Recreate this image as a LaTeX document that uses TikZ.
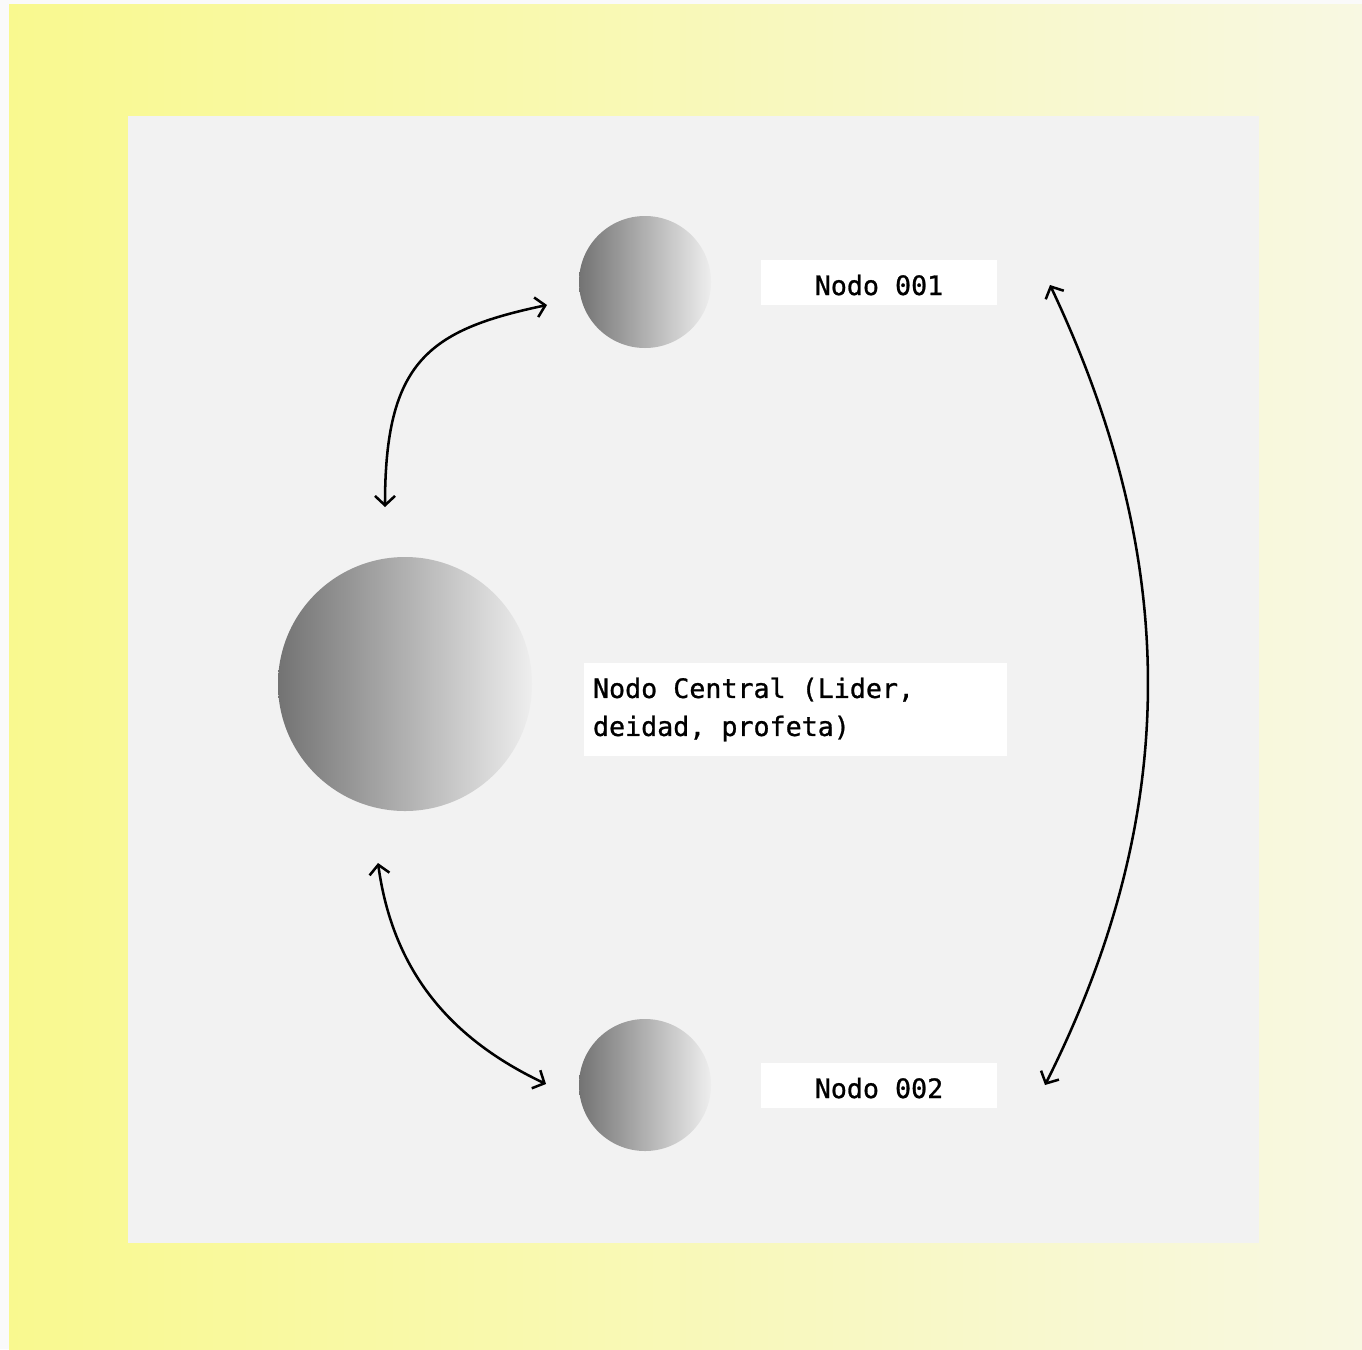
\documentclass[tikz,border=0pt]{standalone}
\usepackage{fontspec}
\newfontfamily\labelmono{DejaVu Sans Mono}[FakeBold=1]
\usetikzlibrary{arrows.meta}
\definecolor{margin}{RGB}{250,250,250}
\definecolor{bgyl}{RGB}{249,249,143}
\definecolor{bgyr}{RGB}{248,248,226}
\definecolor{panel}{RGB}{242,242,242}
\definecolor{sphdark}{RGB}{115,115,115}
\definecolor{sphlight}{RGB}{238,238,238}
\begin{document}
\begin{tikzpicture}[x=0.75pt,y=-0.75pt,
  txt/.style={font=\labelmono\fontsize{20}{28.5}\selectfont},
  namebox/.style={txt, fill=white, inner sep=0pt, minimum width=177pt, minimum height=33.75pt, text height=18.75pt, text depth=0pt},
  centralbox/.style={txt, fill=white, inner sep=0pt, minimum width=317.25pt, minimum height=69.75pt, text width=303.75pt, align=left},
  sphere/.style={circle, left color=sphdark, right color=sphlight, draw=none, inner sep=0pt},
  tipb/.tip={Straight Barb[length=7pt,width=15pt]},
  link/.style={line width=1.9pt, tipb-tipb}
]
\useasboundingbox (0,0) rectangle (1362,1349);
\fill[margin] (0,0) rectangle (1362,1349);
\shade[left color=bgyl, right color=bgyr] (9,4) rectangle (1362,1349);
\fill[panel] (128,116) rectangle (1259,1243);

\node[sphere, minimum size=190.5pt] (center) at (405,684) {};
\node[sphere, minimum size=99pt] (top) at (645,282) {};
\node[sphere, minimum size=99pt] (bottom) at (645,1085) {};

\node[namebox] (n1) at (879,282.5) {Nodo 001};
\node[namebox] (n2) at (879,1085.5) {Nodo 002};
\node[centralbox] (nc) at (795.5,709.5) {\spaceskip=0pt\relax Nodo Central (Lider,\\deidad, profeta)};

\coordinate (a1s) at (385,507);
\coordinate (a1e) at (547,305);
\coordinate (a2s) at (378,863);
\coordinate (a2e) at (546,1084);
\coordinate (a3s) at (1050,285);
\coordinate (a3e) at (1045,1085);

\draw[link] (a1s) .. controls (385,362) and (428,330) .. (a1e);
\draw[link] (a2s) .. controls (393,972) and (451,1039) .. (a2e);
\draw[link] (a3s) .. controls (1180,560) and (1182,812) .. (a3e);
\end{tikzpicture}
\end{document}
